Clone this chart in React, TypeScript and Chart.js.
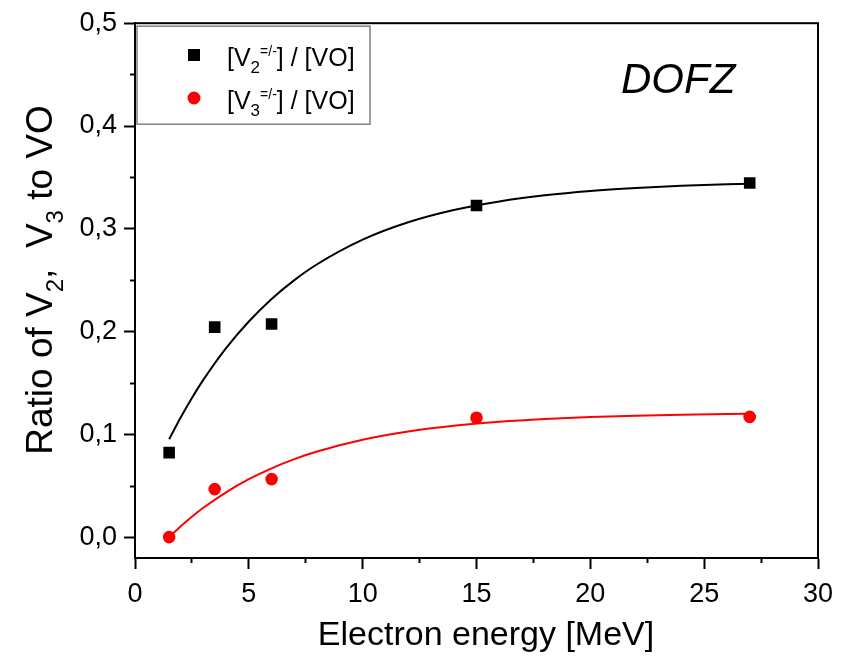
import React, { useEffect, useRef } from "react";
import { Chart, registerables } from "chart.js";

Chart.register(...registerables);

// Measured points
const ENERGY = [1.5, 3.5, 6, 15, 27];
const V2_RATIO = [0.0825, 0.2045, 0.2075, 0.3228, 0.3446];
const V3_RATIO = [0.0003, 0.047, 0.0567, 0.1164, 0.1172];

// Fit curves
const FIT_ENERGY = [1.5, 2, 2.5, 3, 4, 5, 6, 7, 8, 10, 12, 14, 16, 18, 20, 22, 24, 27];
const V2_FIT = [0.0955, 0.1164, 0.1356, 0.1532, 0.1841, 0.21, 0.2319, 0.2502, 0.2656, 0.2895, 0.3064, 0.3183, 0.3267, 0.3327, 0.3369, 0.3398, 0.3419, 0.344];
const V3_FIT = [0.0003, 0.0107, 0.0201, 0.0288, 0.0439, 0.0566, 0.0672, 0.0761, 0.0835, 0.0949, 0.1029, 0.1085, 0.1124, 0.1151, 0.117, 0.1184, 0.1193, 0.1202];

// Ticks
const X_MAJOR = [0, 5, 10, 15, 20, 25, 30];
const X_MINOR = [2.5, 7.5, 12.5, 17.5, 22.5, 27.5];
const Y_MAJOR = [0, 0.1, 0.2, 0.3, 0.4, 0.5];
const Y_MINOR = [0.05, 0.15, 0.25, 0.35, 0.45];

const FONT = '"Liberation Sans", Arial, sans-serif';

type Part = { text: string; size: number; dy?: number; style?: string };

function setFont(ctx: CanvasRenderingContext2D, p: Part) {
  ctx.font = `${p.style || ""} ${p.size}px ${FONT}`;
}
function richWidth(ctx: CanvasRenderingContext2D, parts: Part[]) {
  let w = 0;
  for (const p of parts) {
    setFont(ctx, p);
    w += ctx.measureText(p.text).width;
  }
  return w;
}
function drawRich(ctx: CanvasRenderingContext2D, x: number, y: number, parts: Part[]) {
  let cx = x;
  for (const p of parts) {
    setFont(ctx, p);
    ctx.fillText(p.text, cx, y + (p.dy || 0));
    cx += ctx.measureText(p.text).width;
  }
  return cx;
}

const decorPlugin = {
  id: "decor",
  afterDatasetsDraw(chart: any) {
    const { ctx, chartArea } = chart;
    ctx.save();
    ctx.strokeStyle = "#000";
    ctx.lineWidth = 2;
    ctx.strokeRect(chartArea.left, chartArea.top, chartArea.right - chartArea.left, chartArea.bottom - chartArea.top);
    ctx.restore();
  },
  afterDraw(chart: any) {
    const { ctx, chartArea } = chart;
    ctx.save();
    ctx.textAlign = "left";
    ctx.textBaseline = "alphabetic";
    ctx.fillStyle = "#000";

    // Legend box
    const lx = chartArea.left + 2;
    const ly = chartArea.top + 3;
    ctx.strokeStyle = "#808080";
    ctx.lineWidth = 1.5;
    ctx.strokeRect(lx, ly, 233, 98);

    // Legend markers
    ctx.fillStyle = "#000";
    ctx.fillRect(194 - 6, 55 - 6, 12, 12);
    ctx.fillStyle = "#ff0000";
    ctx.beginPath();
    ctx.arc(194, 98, 6.5, 0, Math.PI * 2);
    ctx.fill();

    ctx.fillStyle = "#000";
    drawRich(ctx, 227, 66, [
      { text: "[V", size: 25 },
      { text: "2", size: 17, dy: 7 },
      { text: "=/-", size: 14, dy: -10 },
      { text: "] / [VO]", size: 25 },
    ]);
    drawRich(ctx, 227, 109, [
      { text: "[V", size: 25 },
      { text: "3", size: 17, dy: 7 },
      { text: "=/-", size: 14, dy: -10 },
      { text: "] / [VO]", size: 25 },
    ]);

    // DOFZ
    drawRich(ctx, 621, 93, [{ text: "DOFZ", size: 42, style: "italic" }]);

    // X title
    const xParts: Part[] = [{ text: "Electron energy [MeV]", size: 34 }];
    const xw = richWidth(ctx, xParts);
    drawRich(ctx, 486 - xw / 2, 645, xParts);

    // Y title
    const yParts: Part[] = [
      { text: "Ratio of V", size: 37 },
      { text: "2", size: 24, dy: 11 },
      { text: ",  V", size: 37 },
      { text: "3", size: 24, dy: 11 },
      { text: " to VO", size: 37 },
    ];
    const yw = richWidth(ctx, yParts);
    ctx.translate(52, 280);
    ctx.rotate(-Math.PI / 2);
    drawRich(ctx, -yw / 2, 0, yParts);
    ctx.restore();
  },
};

export default function App() {
  const ref = useRef<HTMLCanvasElement | null>(null);

  useEffect(() => {
    if (!ref.current) return;
    const tickFont = { family: FONT, size: 27 };
    const chart = new Chart(ref.current, {
      type: "scatter",
      data: {
        datasets: [
          {
            label: "V2 fit",
            data: FIT_ENERGY.map((x, i) => ({ x, y: V2_FIT[i] })),
            showLine: true,
            borderColor: "#000",
            borderWidth: 2,
            pointRadius: 0,
            cubicInterpolationMode: "monotone",
          },
          {
            label: "V3 fit",
            data: FIT_ENERGY.map((x, i) => ({ x, y: V3_FIT[i] })),
            showLine: true,
            borderColor: "#ff0000",
            borderWidth: 2,
            pointRadius: 0,
            cubicInterpolationMode: "monotone",
          },
          {
            label: "[V2=/-] / [VO]",
            data: ENERGY.map((x, i) => ({ x, y: V2_RATIO[i] })),
            showLine: false,
            pointStyle: "rect",
            pointRadius: 8.2,
            backgroundColor: "#000",
            borderColor: "#000",
            borderWidth: 0,
          },
          {
            label: "[V3=/-] / [VO]",
            data: ENERGY.map((x, i) => ({ x, y: V3_RATIO[i] })),
            showLine: false,
            pointStyle: "circle",
            pointRadius: 6.3,
            backgroundColor: "#ff0000",
            borderColor: "#ff0000",
            borderWidth: 0,
          },
        ],
      },
      options: {
        responsive: false,
        animation: false,
        layout: { padding: { left: 0, right: 26, top: 21, bottom: 0 } },
        plugins: {
          legend: { display: false },
          tooltip: { enabled: false },
          title: { display: false },
        },
        scales: {
          xMinor: {
            type: "linear",
            axis: "x",
            position: "bottom",
            weight: -1,
            min: 0,
            max: 30,
            afterBuildTicks: (s: any) => {
              s.ticks = X_MINOR.map((v) => ({ value: v }));
            },
            afterFit: (s: any) => {
              s.height = 0;
            },
            ticks: { display: false },
            grid: { drawOnChartArea: false, drawTicks: true, tickLength: 5, tickWidth: 2, tickColor: "#000" },
            border: { display: false },
          },
          x: {
            type: "linear",
            position: "bottom",
            weight: 0,
            min: 0,
            max: 30,
            afterBuildTicks: (s: any) => {
              s.ticks = X_MAJOR.map((v) => ({ value: v }));
            },
            afterFit: (s: any) => {
              s.height = 99;
            },
            ticks: {
              font: tickFont,
              color: "#000",
              padding: 9,
              maxRotation: 0,
              autoSkip: false,
              callback: (v: any) => String(v),
            },
            grid: { drawOnChartArea: false, drawTicks: true, tickLength: 11, tickWidth: 2, tickColor: "#000" },
            border: { display: true, color: "#000", width: 2 },
          },
          yMinor: {
            type: "linear",
            axis: "y",
            position: "left",
            weight: -1,
            min: -0.02,
            max: 0.5,
            afterBuildTicks: (s: any) => {
              s.ticks = Y_MINOR.map((v) => ({ value: v }));
            },
            afterFit: (s: any) => {
              s.width = 0;
            },
            ticks: { display: false },
            grid: { drawOnChartArea: false, drawTicks: true, tickLength: 5, tickWidth: 2, tickColor: "#000" },
            border: { display: false },
          },
          y: {
            type: "linear",
            position: "left",
            weight: 0,
            min: -0.02,
            max: 0.5,
            afterBuildTicks: (s: any) => {
              s.ticks = Y_MAJOR.map((v) => ({ value: v }));
            },
            afterFit: (s: any) => {
              s.width = 135;
            },
            ticks: {
              font: tickFont,
              color: "#000",
              padding: 7,
              autoSkip: false,
              callback: (v: any) => Number(v).toFixed(1).replace(".", ","),
            },
            grid: { drawOnChartArea: false, drawTicks: true, tickLength: 11, tickWidth: 2, tickColor: "#000" },
            border: { display: true, color: "#000", width: 2 },
          },
        },
      },
      plugins: [decorPlugin],
    } as any);
    return () => chart.destroy();
  }, []);

  return (
    <div style={{ position: "fixed", left: 0, top: 0, width: 844, height: 657, background: "#fff" }}>
      <canvas ref={ref} width={844} height={657} style={{ display: "block" }} />
    </div>
  );
}
